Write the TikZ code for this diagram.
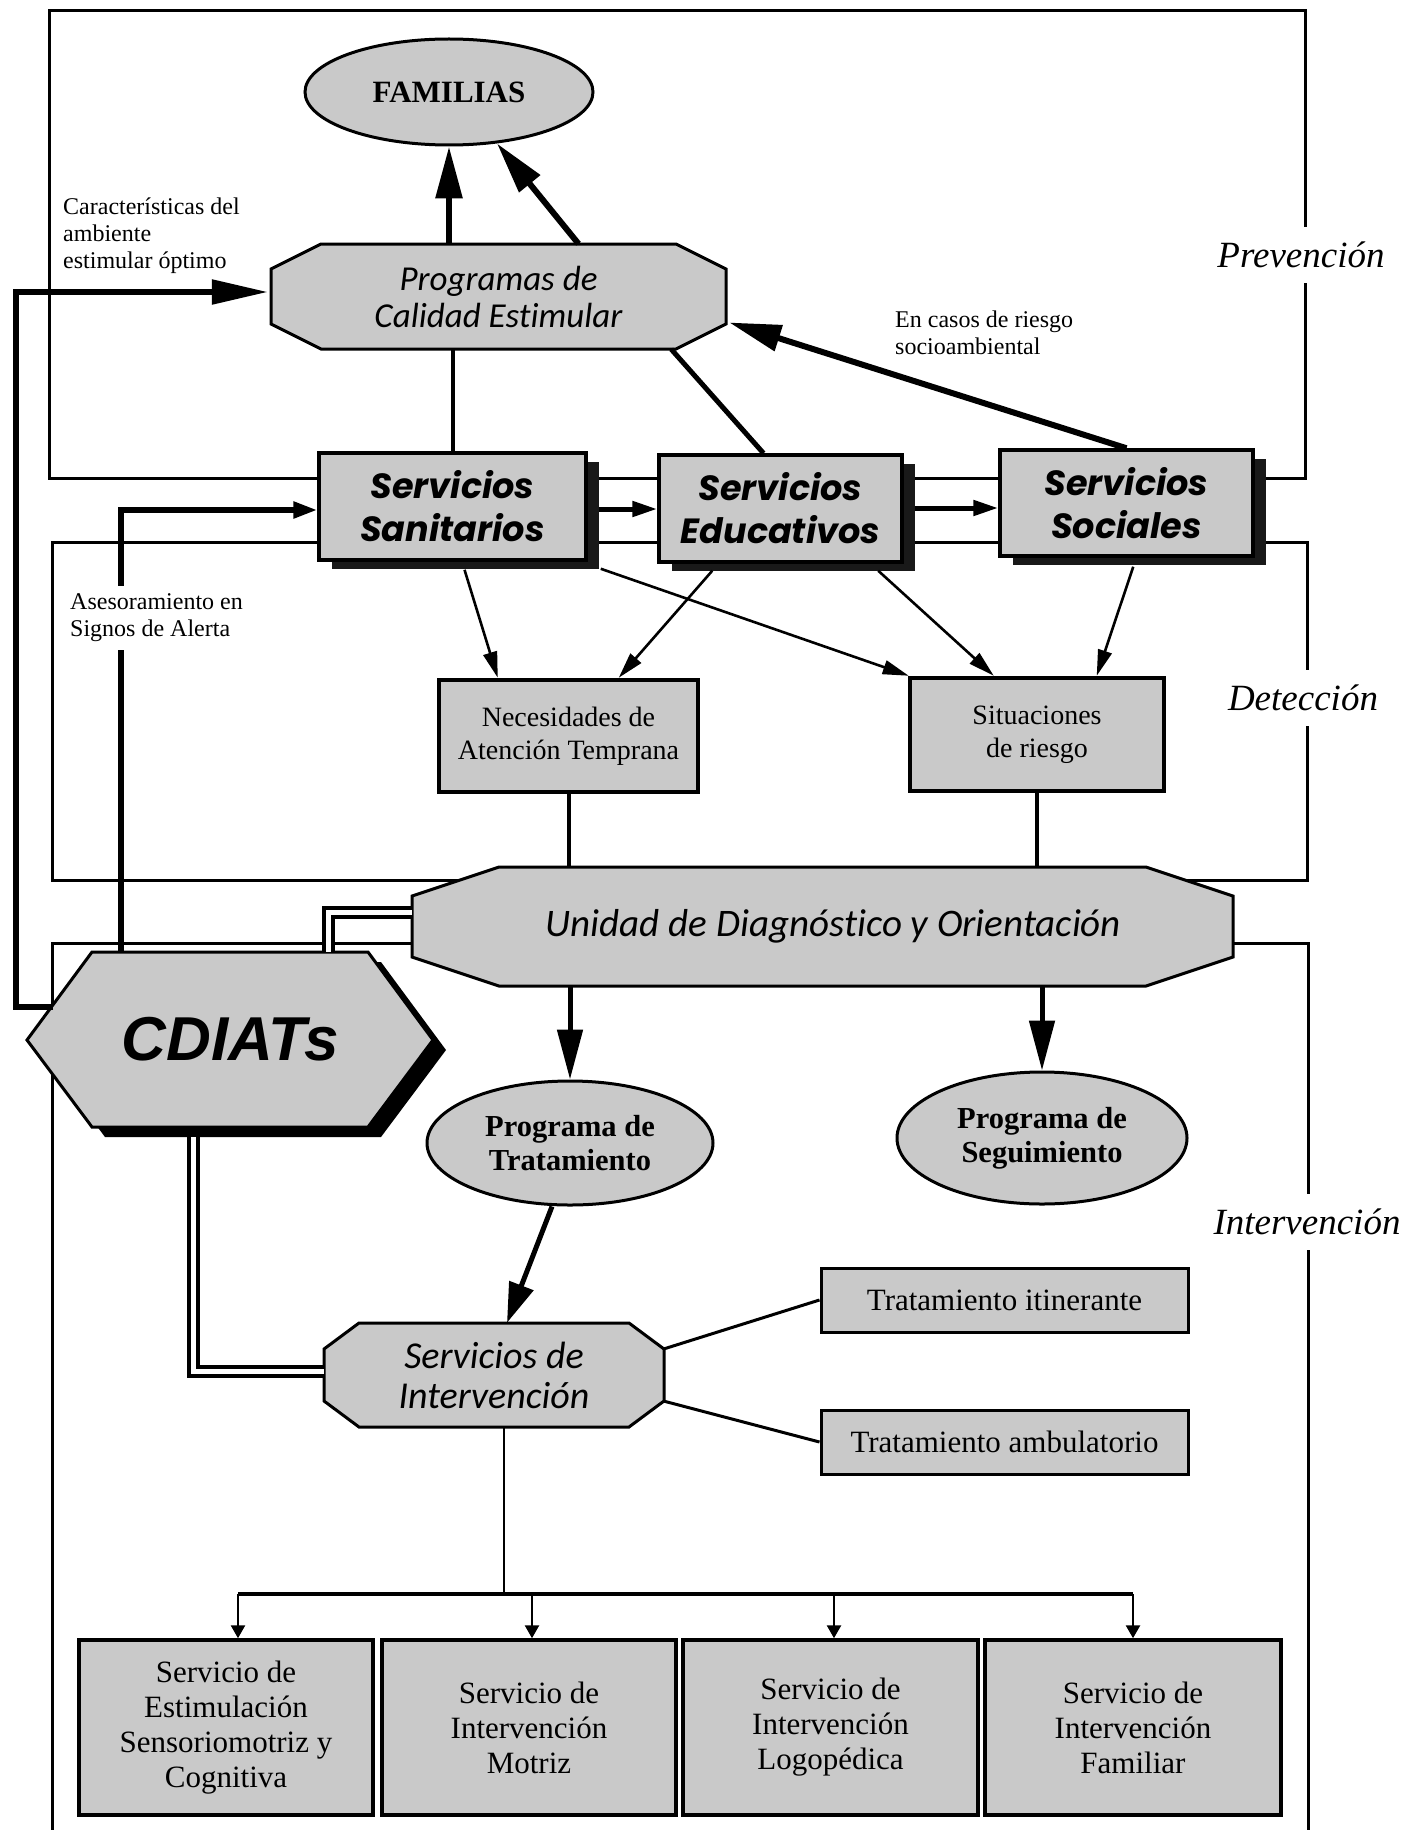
\documentclass[tikz,border=0pt]{standalone}
\usepackage{fontspec}
\setmainfont{Liberation Serif}
\newfontfamily\humfont[Ligatures={NoCommon,NoRequired}]{Carlito}
\newfontfamily\geofont{Poppins}
\newfontfamily\arfont{Liberation Sans}
\usetikzlibrary{arrows.meta,shadows,calc,shapes.geometric}
\definecolor{screen}{gray}{0.79}
\newcommand\myoct[6]{\draw[shapefill] (#1+#5,#2) -- (#3-#5,#2) -- (#3,#2+#6) -- (#3,#4-#6) -- (#3-#5,#4) -- (#1+#5,#4) -- (#1,#4-#6) -- (#1,#2+#6) -- cycle;}
\begin{document}
\begin{tikzpicture}[x=1pt,y=-1pt,
  frameline/.style={line width=3pt},
  shapefill/.style={fill=screen, draw=black, line width=3pt, line join=miter},
  svcbox/.style={rectangle, fill=screen, draw=black, line width=3.5pt, align=center, inner sep=0pt,
    font=\geofont\bfseries\itshape\fontsize{35}{43}\selectfont,
    drop shadow={shadow xshift=13pt, shadow yshift=-9pt, fill=black!90, opacity=1}},
  serbox/.style={rectangle, fill=screen, draw=black, line width=4.5pt, align=center, inner sep=0pt,
    font=\fontsize{28}{33}\selectfont},
  trbox/.style={rectangle, fill=screen, draw=black, line width=3.5pt, align=center, inner sep=0pt,
    font=\fontsize{31}{35}\selectfont},
  ovalnode/.style={ellipse, fill=screen, draw=black, line width=3pt, align=center, inner sep=0pt,
    font=\bfseries\fontsize{30.5}{34}\selectfont},
  textnode/.style={align=center, inner sep=0pt},
  lab/.style={align=left, inner sep=0pt, font=\fontsize{24}{27}\selectfont},
  side/.style={fill=white, inner xsep=3pt, inner ysep=15pt, font=\itshape\fontsize{37}{40}\selectfont},
  plainline/.style={line width=4pt},
  dbl/.style={double, line width=4pt, double distance=5pt},
  bigarrow/.style={line width=6pt, -{Triangle[length=52pt,width=26pt]}},
  udarrow/.style={line width=5pt, -{Triangle[length=50pt,width=25pt]}},
  trarrow/.style={line width=5pt, -{Triangle[length=40pt,width=25pt]}},
  cararrow/.style={line width=5.5pt, -{Triangle[length=56pt,width=24pt]}},
  asarrow/.style={line width=5.5pt, -{Triangle[length=24pt,width=16pt]}},
  midarrow/.style={line width=5pt, -{Triangle[length=25pt,width=15pt]}},
  thinarrow/.style={line width=2.6pt, -{Triangle[length=26pt,width=14pt]}},
  treearrow/.style={line width=2.6pt, -{Triangle[length=13pt,width=14pt]}}
]
\useasboundingbox (0,0) rectangle (1410,1830);

% ---------- frames ----------
\draw[frameline] (49,478) -- (49,11) -- (1305,11) -- (1305,478) -- cycle;
\draw[frameline] (52,542) rectangle (1307,880);
\draw[frameline] (52,1830) -- (52,943) -- (1308,943) -- (1308,1830);

% ---------- top ----------
\node[ovalnode, font=\bfseries\fontsize{31}{34}\selectfont, minimum width=288pt, minimum height=106pt] (fam) at (449,92) {FAMILIAS};

\myoct{271}{244}{726}{349}{50}{25}
\node[textnode, minimum width=455pt, minimum height=105pt,
  font=\humfont\itshape\fontsize{35}{37}\selectfont] (prog) at (498.5,296.5) {Programas de\\Calidad Estimular};

\node[svcbox, minimum width=267pt, minimum height=107pt] (san) at (452.5,506.5) {Servicios\\Sanitarios};
\node[svcbox, minimum width=243pt, minimum height=107pt] (edu) at (780.5,508.5) {Servicios\\Educativos};
\node[svcbox, minimum width=253pt, minimum height=106pt] (soc) at (1126.5,503) {Servicios\\Sociales};

\node[serbox, minimum width=259pt, minimum height=112pt] (nec) at (568.5,736) {Necesidades de\\Atención Temprana};
\node[serbox, minimum width=254pt, minimum height=113pt] (sit) at (1037,734.5) {Situaciones\\de riesgo};

% ---------- Unidad ----------
\myoct{412}{867}{1233}{986}{87}{29}
\node[textnode, minimum width=821pt, minimum height=119pt,
  font=\humfont\itshape\fontsize{39}{41}\selectfont] (udo) at (822.5,926.5) {\hspace*{22pt}Unidad de Diagnóstico y Orientación};

% ---------- CDIATs ----------
\fill[black] (105,962) -- (381,962) -- (446,1050) -- (381,1137) -- (105,1137) -- (40,1050) -- cycle;
\draw[shapefill] (92,952) -- (368,952) -- (433,1040) -- (368,1127) -- (92,1127) -- (27,1040) -- cycle;
\node[textnode, minimum width=406pt, minimum height=175pt,
  font=\arfont\bfseries\itshape\fontsize{62}{62}\selectfont] (cdi) at (230,1039.5) {CDIATs};

% ---------- programs ----------
\node[ovalnode, minimum width=286pt, minimum height=124pt] (trat) at (570,1143) {Programa de\\Tratamiento};
\node[ovalnode, minimum width=290pt, minimum height=132pt] (seg) at (1042,1138) {Programa de\\Seguimiento};

\myoct{324}{1323}{664}{1427}{35}{26}
\node[textnode, minimum width=340pt, minimum height=104pt,
  font=\humfont\itshape\fontsize{38}{40}\selectfont] (sint) at (494,1375) {Servicios de\\Intervención};

\node[trbox, line width=3pt, minimum width=367pt, minimum height=64pt] (titi) at (1004.5,1300) {Tratamiento itinerante};
\node[trbox, line width=3pt, minimum width=367pt, minimum height=64pt] (tamb) at (1004.5,1442) {Tratamiento ambulatorio};

\node[trbox, minimum width=294pt, minimum height=175pt] (b1) at (226,1727.5) {Servicio de\\Estimulación\\Sensoriomotriz y\\Cognitiva};
\node[trbox, minimum width=294pt, minimum height=175pt] (b2) at (529,1727.5) {Servicio de\\Intervención\\Motriz};
\node[trbox, minimum width=295pt, minimum height=175pt] (b3) at (830.5,1727.5) {Servicio de\\Intervención\\Logopédica};
\node[trbox, minimum width=296pt, minimum height=175pt] (b4) at (1133,1727.5) {Servicio de\\Intervención\\Familiar};

% ---------- connectors: top ----------
\draw[bigarrow] (prog.north -| fam.south) -- (fam.south);
\draw[bigarrow] ($(prog.north)+(80,0)$) -- (fam.313);
\draw[plainline] (san.north |- prog.south) -- (san.north);
\draw[line width=5pt] ($(prog.south east)+(-55,0)$) -- ($(edu.north)+(-17,0)$);
\draw[bigarrow] (soc.north) -- ($(prog.east)+(3,26)$);

% Caracteristicas loop
\coordinate (cc) at (53,1007);
\coordinate (ca) at (16,1007);
\coordinate (cb) at (16,292);
\draw[cararrow, shorten >=3pt] (cc) -- (ca) -- (cb) -- (cb -| prog.west);

% Asesoramiento
\coordinate (as) at (121,510);
\draw[asarrow] (as |- cdi.north) -- (as) -- (as -| san.west);

% between services
\coordinate (m1) at (599,509);
\coordinate (m2) at (915,508);
\draw[midarrow] (m1) -- (m1 -| edu.west);
\draw[midarrow] (m2) -- (m2 -| soc.west);

% detection arrows
\draw[thinarrow] ($(san.south)+(12,8)$) -- ($(nec.north west)+(61,0)$);
\draw[thinarrow] ($(edu.south west)+(55,7)$) -- ($(nec.north west)+(182,0)$);
\draw[thinarrow] ($(san.south east)+(13,7)$) -- ($(sit.north west)+(1,0)$);
\draw[thinarrow] ($(edu.south west)+(221,7)$) -- ($(sit.north west)+(86,0)$);
\draw[thinarrow] ($(soc.south west)+(135,9)$) -- ($(sit.north west)+(189,0)$);

\draw[plainline] (nec.south) -- (nec.south |- udo.north);
\draw[plainline] (sit.south) -- (sit.south |- udo.north);

% Unidad down
\draw[udarrow] (trat.north |- udo.south) -- (trat.north);
\draw[udarrow] (seg.north |- udo.south) -- (seg.north);

% double lines CDIATs
\coordinate (dk1) at (328,912);
\draw[dbl] ($(udo.west)+(0,-14.5)$) -- (dk1) -- (dk1 |- cdi.north);
\coordinate (dk2) at (193,1371);
\draw[dbl] ($(dk2 |- cdi.south)+(0,10)$) -- (dk2) -- (dk2 -| sint.west);

% Tratamiento -> Servicios de Intervencion
\draw[trarrow] ($(trat.south)+(-18,0)$) -- ($(sint.north)+(13,0)$);

\draw[line width=3pt] ($(sint.north east)+(0,26)$) -- (titi.west);
\draw[line width=3pt] ($(sint.south east)+(0,-26)$) -- (tamb.west);

% tree
\coordinate (barm) at (504,1594);
\coordinate (ba) at (238,1594);
\coordinate (bb) at (532,1594);
\coordinate (bc) at (834,1594);
\coordinate (bd) at (1133,1594);
\draw[line width=2.6pt] (sint.south -| barm) -- (barm);
\draw[line width=3.5pt] (ba) -- (bd);
\draw[treearrow] (ba) -- (ba |- b1.north);
\draw[treearrow] (bb) -- (bb |- b2.north);
\draw[treearrow] (bc) -- (bc |- b3.north);
\draw[treearrow] (bd) -- (bd |- b4.north);

% ---------- labels ----------
\node[lab, anchor=west] (lcar) at (63,236) {Características del\\ambiente\\estimular óptimo};
\node[lab, anchor=west, fill=white, inner xsep=4pt, inner ysep=8pt] (lase) at (66,618) {Asesoramiento en\\Signos de Alerta};
\node[lab, anchor=west] (lcas) at (895,333) {En casos de riesgo\\socioambiental};

\node[side] (lprev) at (1301,255) {Prevención};
\node[side] (ldet) at (1303,698) {Detección};
\node[side] (lint) at (1307,1222) {Intervención};
\end{tikzpicture}
\end{document}
